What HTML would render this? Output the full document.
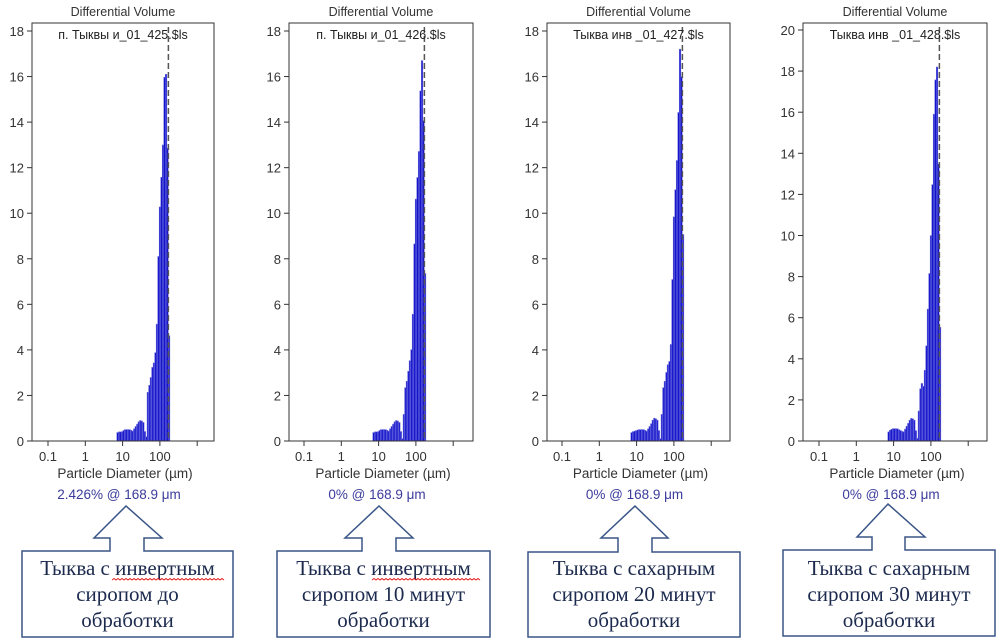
<!DOCTYPE html>
<html><head><meta charset="utf-8">
<style>
html,body{margin:0;padding:0;background:#fff;}
svg{display:block;}
</style></head>
<body>
<svg id="s" width="1002" height="641" xmlns="http://www.w3.org/2000/svg"></svg>
<script>
const NS="http://www.w3.org/2000/svg";
const s=document.getElementById('s');
function el(t,a,txt){const e=document.createElementNS(NS,t);for(const k in a)e.setAttribute(k,a[k]);if(txt!==undefined)e.textContent=txt;s.appendChild(e);return e;}
const panels=[
 {L:32,R:214,x01:48,ymax:18,name:"п. Тыквы и_01_425.$ls",foot:"2.426% @ 168.9 μm",
  a:[[7,0.3],[8,0.4],[10,0.4],[12,0.5],[15,0.5],[19,0.4],[25,0.7],[30,0.9],[35,0.8],[40,0.1],[45,0],[50,2.2],[58,2.6],[65,3.2],[75,3.5],[85,4.3],[92,6.7],[100,9.5],[112,11.2],[125,12.5],[140,16.1],[155,12.4],[172,2.4],[185,0]]},
 {L:289,R:473,x01:304,ymax:18,name:"п. Тыквы и_01_426.$ls",foot:"0% @ 168.9 μm",
  a:[[7,0.3],[8,0.4],[10,0.4],[12,0.5],[15,0.5],[19,0.4],[25,0.7],[30,0.9],[35,0.8],[40,0.1],[45,0],[50,1.2],[55,2.4],[62,2.7],[70,3.4],[78,3.8],[85,4.7],[92,7.2],[100,10.1],[115,11.5],[130,13],[145,16.7],[162,11.3],[180,0]]},
 {L:547,R:730,x01:562,ymax:18,name:"Тыква инв _01_427.$ls",foot:"0% @ 168.9 μm",
  a:[[7,0.3],[8,0.4],[10,0.45],[12,0.5],[15,0.5],[19,0.4],[25,0.7],[30,1.0],[35,0.9],[40,0.1],[45,0],[50,1.2],[55,2.4],[62,2.7],[70,3.3],[80,3.5],[88,4.3],[95,6.8],[105,9.8],[120,11.5],[135,13.2],[150,17.2],[165,11.5],[180,0]]},
 {L:803,R:987,x01:819,ymax:20,name:"Тыква инв _01_428.$ls",foot:"0% @ 168.9 μm",
  a:[[7,0.3],[8,0.5],[10,0.6],[12,0.6],[15,0.5],[19,0.4],[25,0.8],[30,1.1],[35,1.0],[40,0.1],[45,0],[50,1.5],[56,2.8],[62,2.3],[70,3.0],[80,4.7],[90,7.0],[100,8.9],[112,11.3],[128,16.2],[145,18.2],[163,8.0],[180,0]]}
];
const Y0=441,YT=23;
panels.forEach(p=>{
 const dec=37.3;
 const X=d=>p.x01+(Math.log10(d)+1)*dec;
 const topV=p.ymax===18?31:30;
 const Y=v=>Y0-v*(Y0-topV)/p.ymax;
 const cx=(p.L+p.R)/2;
 el('text',{x:cx,y:16,'text-anchor':'middle','font-family':'Liberation Sans,sans-serif','font-size':12.5,fill:'#333'},"Differential Volume");
 const lg=p.a.map(q=>[Math.log10(q[0]),q[1]]);
 function h(l){for(let i=0;i<lg.length-1;i++){if(l>=lg[i][0]&&l<=lg[i+1][0]){const t=(l-lg[i][0])/(lg[i+1][0]-lg[i][0]);return lg[i][1]+t*(lg[i+1][1]-lg[i][1]);}}return 0;}
 function hb(l1,l2){let m=Math.max(h(l1),h(l2));lg.forEach(q=>{if(q[0]>=l1&&q[0]<=l2)m=Math.max(m,q[1]);});return m;}
 const st=0.0406;
 for(let l=Math.log10(7);l<Math.log10(178);l+=st){
   const v=hb(l,l+st); if(v<=0.02)continue;
   const x1=p.x01+(l+1)*dec,x2=p.x01+(l+st+1)*dec;
   el('rect',{x:x1,y:Y(v),width:x2-x1,height:Y0-Y(v),fill:'#0a0ac8',stroke:'#7070e0','stroke-width':0.6});
 }
 el('line',{x1:X(168.9),x2:X(168.9),y1:27,y2:Y0,stroke:'#555','stroke-width':1.5,'stroke-dasharray':'6,3'});
 el('rect',{x:p.L,y:YT,width:p.R-p.L,height:Y0-YT,fill:'none',stroke:'#333','stroke-width':1});
 el('text',{x:cx,y:39,'text-anchor':'middle','font-family':'Liberation Sans,sans-serif','font-size':12.5,fill:'#222'},p.name);
 for(let v=0;v<=p.ymax;v+=2){const y=Y(v);
  el('line',{x1:p.L-5,x2:p.L,y1:y,y2:y,stroke:'#333'});
  el('text',{x:p.L-8,y:y+5,'text-anchor':'end','font-family':'Liberation Sans,sans-serif','font-size':13,fill:'#333'},v);}
 [["0.1",0.1],["1",1],["10",10],["100",100],["",1000]].forEach(t=>{const x=X(t[1]);
  el('line',{x1:x,x2:x,y1:Y0,y2:Y0+5,stroke:'#333'});
  if(t[0])el('text',{x:x,y:461,'text-anchor':'middle','font-family':'Liberation Sans,sans-serif','font-size':13,fill:'#333'},t[0]);});
 el('text',{x:cx+2,y:478,'text-anchor':'middle','font-family':'Liberation Sans,sans-serif','font-size':13.5,fill:'#333'},"Particle Diameter (µm)");
 el('text',{x:cx-4,y:499,'text-anchor':'middle','font-family':'Liberation Sans,sans-serif','font-size':13.5,fill:'#3b3b9c'},p.foot);
});
const C=[
 {bx1:22,bx2:233,by1:551,by2:637,tip:126,ty:506,h1:94,h2:162,hb:538,s1:110,s2:144,lines:["Тыква с инвертным","сиропом до","обработки"],wav:[112,222]},
 {bx1:277,bx2:490,by1:551,by2:637,tip:379,ty:506,h1:345,h2:413,hb:538,s1:362,s2:396,lines:["Тыква с инвертным","сиропом 10 минут","обработки"],wav:[372,480]},
 {bx1:528,bx2:740,by1:552,by2:637,tip:635,ty:506,h1:601,h2:668,hb:538,s1:618,s2:652,lines:["Тыква с сахарным","сиропом 20 минут","обработки"]},
 {bx1:783,bx2:995,by1:550,by2:636,tip:888,ty:504,h1:857,h2:925,hb:537,s1:872,s2:905,lines:["Тыква с сахарным","сиропом 30 минут","обработки"]}
];
C.forEach(c=>{
 const d=`M${c.bx1},${c.by1} L${c.s1},${c.by1} L${c.s1},${c.hb} L${c.h1},${c.hb} L${c.tip},${c.ty} L${c.h2},${c.hb} L${c.s2},${c.hb} L${c.s2},${c.by1} L${c.bx2},${c.by1} L${c.bx2},${c.by2} L${c.bx1},${c.by2} Z`;
 el('path',{d:d,fill:'#fff',stroke:'#3a5587','stroke-width':1.5});
 const cx=(c.bx1+c.bx2)/2;
 c.lines.forEach((t,i)=>el('text',{x:cx,y:575+i*26,'text-anchor':'middle','font-family':'Liberation Serif,serif','font-size':21,fill:'#1c2a4e'},t));
 if(c.wav){let p=`M${c.wav[0]},580`;for(let x=c.wav[0];x<c.wav[1];x+=4)p+=` l2,-1.5 l2,1.5`;el('path',{d:p,fill:'none',stroke:'#e02020','stroke-width':1});}
});
</script>
</body></html>
